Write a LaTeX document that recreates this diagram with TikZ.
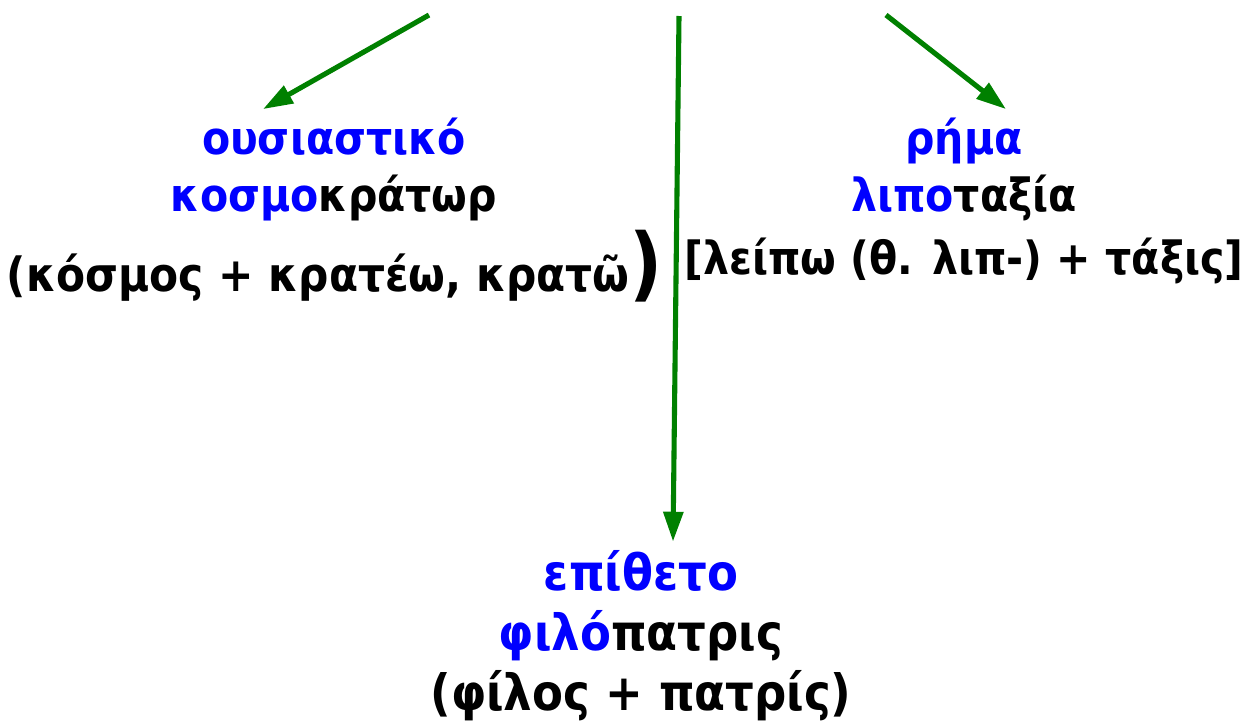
\documentclass[tikz,border=0pt]{standalone}
\usepackage{fontspec}
\setmainfont{DejaVu Sans Condensed}
\usetikzlibrary{arrows.meta,calc}
\definecolor{leaf}{HTML}{008000}
\definecolor{stem}{HTML}{0000FF}
\newcommand{\Stem}[1]{\textcolor{stem}{#1}}

\begin{document}
\begin{tikzpicture}[x=0.02cm, y=-0.02cm, font=\bfseries\fontsize{26}{31}\selectfont,
    word/.style={anchor=base, inner sep=0pt},
    kind/.style={word, text=stem},
    large/.style={font=\bfseries\fontsize{28.5}{34}\selectfont},
    link/.style={-{Triangle[length=17pt, width=11pt]}, line width=2.9pt, draw=leaf},
  ]
% --- Canvas ------------------------------------------------------------------------
\useasboundingbox (0,0) rectangle (1250,724);

% --- Words ---------------------------------------------------------------------------
\node[kind] (noun) at (334,154) {ουσιαστικό};
\node[word] (nounword) at (334,211) {\Stem{κοσμο}κράτωρ};
\node[word, font=\bfseries\fontsize{26.8}{32}\selectfont] (nounroot) at (335,291) {(κόσμος + κρατέω, κρατῶ{\fontsize{46}{50}\selectfont)}};

\node[kind] (verb) at (964,154) {ρήμα};
\node[word] (verbword) at (964,211) {\Stem{λιπο}ταξία};
\node[word] (verbroot) at (964,274) {[λείπω (θ. λιπ-) + τάξις]};

\node[kind, large] (adj) at (641,590) {επίθετο};
\node[word, large] (adjword) at (641,650) {\Stem{φιλό}πατρις};
\node[word, large] (adjroot) at (641,710) {(φίλος + πατρίς)};

% --- Arrows ---------------------------------------------------------------------------
\coordinate (topleft) at (429,15);
\coordinate (topmid) at (679,16);
\coordinate (topright) at (886,15);
\draw[link] (topleft) -- ($(noun.north)+(-71,-8)$);
\draw[link] (topmid) -- ($(adj.north)+(32,-8)$);
\draw[link] (topright) -- ($(verb.north)+(42,-8)$);
\end{tikzpicture}
\end{document}
